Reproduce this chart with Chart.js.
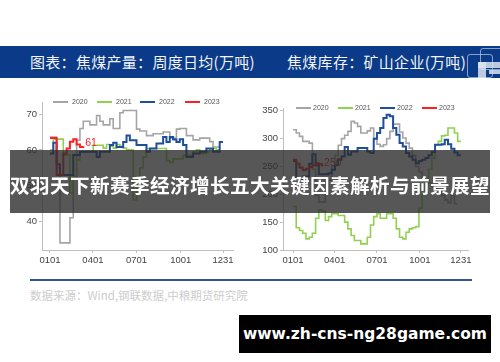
<!DOCTYPE html>
<html>
<head>
<meta charset="utf-8">
<script src="https://cdn.jsdelivr.net/npm/chart.js@4.4.0/dist/chart.umd.min.js"></script>
<style>
  body { margin: 0; width: 500px; height: 362px; background: #fff; position: relative; overflow: hidden; font-family: "Noto Sans CJK SC", sans-serif; }
  .head { position: absolute; left: 0; top: 46px; width: 500px; height: 32px; background: #0b3b88; }
  .head span { position: absolute; top: 0; line-height: 32px; color: #f2f4f8; font-size: 15px; letter-spacing: 0.3px; white-space: nowrap; }
  .logo { position: absolute; border: 1px solid rgba(190,205,230,0.7); border-radius: 3px; }
  canvas { position: absolute; }
  .lg { position: absolute; height: 10px; font-family: "Liberation Sans Narrow", "Liberation Sans", sans-serif; font-size: 7px; color: #555; white-space: nowrap; }
  .lg i { position: absolute; left: 0; top: 4px; width: 15px; height: 2px; }
  .lg b { position: absolute; top: 0; font-weight: normal; line-height: 10px; }
  .banner { position: absolute; left: 10px; top: 150px; width: 480px; height: 63px; background: rgba(45,45,45,0.8); }
  .banner span { position: absolute; left: 0; right: 0; top: 22px; height: 26px; color: #fff; font-weight: 700; font-size: 19.6px; line-height: 26px; text-align: center; white-space: nowrap; letter-spacing: 0.4px; }
  .rule { position: absolute; left: 30px; top: 279px; width: 442px; height: 2px; background: #2f5597; }
  .src { position: absolute; left: 30px; top: 287px; font-size: 11.5px; color: #cdcdcd; white-space: nowrap; }
  .url { position: absolute; left: 239px; top: 315px; width: 252px; height: 38px; background: #000; color: #fff; font-family: "DejaVu Sans", sans-serif; font-weight: 700; font-size: 15.5px; line-height: 38px; text-align: center; white-space: nowrap; }
</style>
</head>
<body>
<div class="head">
  <span style="left:30px">图表：焦煤产量：周度日均(万吨)</span>
  <span style="left:287px">焦煤库存：矿山企业(万吨)</span>
  <div class="logo" style="left:467px;top:8px;width:24px;height:22px"></div>
  <div class="logo" style="left:480px;top:2px;width:22px;height:20px"></div>
  <div style="position:absolute;left:478px;top:16px;width:22px;height:6px;background:rgba(220,228,240,0.85)"></div>
  <div style="position:absolute;left:478px;top:16px;width:8px;height:16px;background:rgba(220,228,240,0.85)"></div>
  <div style="position:absolute;left:489px;top:24px;width:11px;height:4px;background:rgba(220,228,240,0.85)"></div>
</div>

<canvas id="left" width="245" height="175" style="left:0;top:95px"></canvas>
<canvas id="right" width="250" height="175" style="left:250px;top:95px"></canvas>
<div id="legends"></div>

<div class="banner"><span>双羽天下新赛季经济增长五大关键因素解析与前景展望</span></div>
<div class="rule"></div>
<div class="src">数据来源：Wind,钢联数据,中粮期货研究院</div>
<div class="url">www.zh-cns-ng28game.com</div>

<script>
const years = ["2020", "2021", "2022", "2023"];
const tickDays = ["0101", "0401", "0701", "1001", "1231"];
const tickWeeks = [0, 12.9, 26, 39.3, 52];

// 焦煤产量 周度日均 (万吨), one value per week
const output2020 = [63.6, 63.6, 55, 34, 34, 34, 41, 52, 62.7, 66, 68, 68, 67, 67, 69.6, 68, 67, 67, 68.7, 66, 66, 70.4, 71, 71, 71, 71,
  65.8, 65.3, 65.3, 64, 64, 64.5, 64.5, 64.5, 65, 65, 63.3, 63.3, 65.8, 66, 66, 64, 64, 62.8, 62.8, 63.3, 63.3, 63.3, 62.3, 60.8, 60.8, 60.8];
const output2021 = [60, 63, 63, 63, 58.6, 58.6, 48, 52.6, 57.2, 59.5, 59.5, 59.5, 59.5, 61.3, 61.3, 61.3, 60.5, 61.5, 61, 60.5, 61.5, 61, 60.5, 60, 60,
  46, 50, 55, 58, 60.4, 60.4, 60.4, 60.4, 60.4, 60.4, 57, 56.5, 57.5, 57.5, 57.5, 58.5, 58.5, 58.5, 59.5, 60, 59, 59, 59.5, 60, 60.5, 60, 60];
const output2022 = [59, 62, 56, 53, 53, 53, 53, 58.6, 58.6, 59.5, 59.5, 59.5, 59.5, 59.5, 58, 59.5, 59.5, 59.5, 61.4, 62, 60.8, 60.8, 62.2, 64, 62.7, 62.7,
  61.4, 61.4, 61.4, 59.5, 60.4, 60.4, 61.8, 61.8, 63.6, 62.2, 63.6, 62.9, 62.2, 63, 61.4, 58, 58, 59, 59, 59.5, 59.5, 60.4, 60.4, 59.5, 59.5, 62.2, 62.2];
const output2023 = [63.3, 63.3, 53, 53, 59, 60.4, 62.3, 63, 61.5, 60.8, 61];

// 焦煤库存 矿山企业 (万吨)
const stock2020 = [316, 310, 304, 295, 295, 292, 245, 198, 186, 186, 200, 225, 250, 270, 288, 300, 306, 313, 331, 328, 322, 310, 310, 314, 319, 300,
  290, 286, 289, 300, 313, 326, 326, 312, 301, 292, 283, 270, 250, 240, 230, 225, 220, 215, 210, 205, 198, 190, 185, 198, 183, 183];
const stock2021 = [178, 140, 135, 130, 120, 123, 130, 157, 172, 170, 153, 160, 165, 165, 162, 162, 150, 138, 126, 117, 117, 111, 111, 123, 145, 160,
  165, 157, 157, 165, 165, 157, 138, 123, 120, 132, 138, 140, 142, 175, 200, 220, 245, 265, 289, 295, 305, 306, 319, 319, 310, 295, 295];
const stock2022 = [260, 228, 228, 232, 232, 255, 272, 252, 236, 236, 236, 238, 244, 252, 262, 268, 285, 271, 277, 277, 283, 283, 283, 277, 274, 300,
  310, 319, 337, 343, 340, 319, 307, 292, 286, 274, 268, 262, 256, 260, 262, 265, 270, 276, 289, 289, 290, 298, 290, 282, 275, 270, 270];
const stock2023 = [262, 255, 248, 243, 246, 249, 252, 256, 254, 250];

const colors = ["#a5a5a5", "#92d050", "#1f4e9a", "#ff1f1f"];
const widths = [1.6, 1.6, 2, 2];
const tickFont = { family: "'Liberation Sans Narrow', 'Liberation Sans', sans-serif", size: 9.5 };

function weekPoints(vals) {
  return vals.map((v, i) => ({ x: i, y: v }));
}

// latest value printed next to the end of the 2023 line
const endLabel = {
  id: "endLabel",
  afterDatasetsDraw(chart) {
    const ctx = chart.ctx;
    chart.data.datasets.forEach((ds, i) => {
      if (!ds.endLabel) return;
      const pts = chart.getDatasetMeta(i).data;
      const p = pts[pts.length - 1];
      ctx.save();
      ctx.fillStyle = ds.borderColor;
      ctx.font = "10.5px 'Liberation Sans Narrow', 'Liberation Sans', sans-serif";
      ctx.textBaseline = "middle";
      ctx.fillText(Math.round(ds.data[ds.data.length - 1].y), p.x + 2, p.y - 3);
      ctx.restore();
    });
  },
};

function makeChart(id, series, cfg) {
  return new Chart(document.getElementById(id), {
    type: "line",
    data: {
      datasets: series.map((vals, i) => ({
        label: years[i],
        data: weekPoints(vals),
        borderColor: colors[i],
        borderWidth: widths[i],
        pointRadius: 0,
        stepped: true,
        fill: false,
        order: 3 - i,
        endLabel: i === 3,
      })),
    },
    options: {
      responsive: false,
      animation: false,
      layout: { padding: cfg.padding },
      plugins: { legend: { display: false }, tooltip: { enabled: false } },
      scales: {
        x: {
          type: "linear",
          min: cfg.xmin,
          max: cfg.xmax,
          afterFit: (s) => { s.height = 20; },
          afterBuildTicks: (s) => { s.ticks = tickWeeks.map((v) => ({ value: v })); },
          ticks: { callback: (v, i) => tickDays[i], autoSkip: false, maxRotation: 0, font: tickFont, color: "#444", padding: 2 },
          grid: { drawOnChartArea: false, tickLength: 3, color: "#bfbfbf" },
          border: { color: "#bfbfbf" },
        },
        y: {
          min: cfg.ymin,
          max: cfg.ymax,
          afterFit: (s) => { s.width = cfg.yWidth; },
          ticks: { stepSize: cfg.step, includeBounds: false, font: tickFont, color: "#444", padding: 2 },
          grid: { drawOnChartArea: false, tickLength: 3, color: "#bfbfbf" },
          border: { color: "#bfbfbf" },
        },
      },
    },
    plugins: [endLabel],
  });
}

makeChart("left", [output2020, output2021, output2022, output2023], {
  xmin: -2.4, xmax: 55, ymin: 32, ymax: 73.2, step: 10, yWidth: 42,
  padding: { top: 5, right: 12, bottom: 0, left: 0 },
});
makeChart("right", [stock2020, stock2021, stock2022, stock2023], {
  xmin: -3.1, xmax: 54.2, ymin: 100, ymax: 355, step: 50, yWidth: 33,
  padding: { top: 13, right: 32, bottom: 0, left: 0 },
});

// legends as in the source picture, placed above each plot
function legend(xs, y, gap) {
  const box = document.getElementById("legends");
  years.forEach((yr, i) => {
    const d = document.createElement("div");
    d.className = "lg";
    d.style.left = xs[i] + "px";
    d.style.top = (y - 5) + "px";
    d.innerHTML = '<i style="background:' + colors[i] + '"></i><b style="left:' + gap + 'px">' + yr + "</b>";
    box.appendChild(d);
  });
}
legend([53, 97, 140, 185], 102, 19);
legend([296, 338, 380, 422], 108, 17);
</script>
</body>
</html>
